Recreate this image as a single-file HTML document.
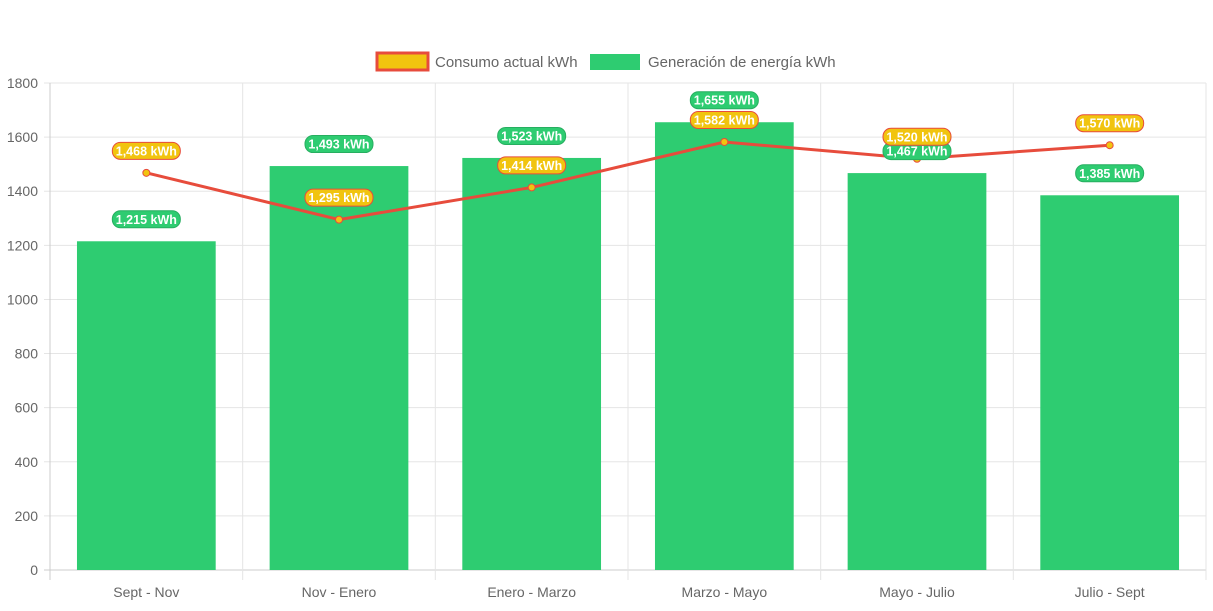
<!DOCTYPE html>
<html><head><meta charset="utf-8"><style>
body{margin:0;background:#fff;width:1213px;height:606px;overflow:hidden;font-family:"Liberation Sans",sans-serif}
</style></head><body>
<svg id="c" width="1213" height="606" font-family="Liberation Sans, sans-serif">
<g>
<rect x="377" y="53" width="51" height="17" fill="#f1c40f" stroke="#e74c3c" stroke-width="3"/>
<text x="435" y="67" font-size="15" fill="#666">Consumo actual kWh</text>
<rect x="590" y="54" width="50" height="16" fill="#2ecc71"/>
<text x="648" y="67" font-size="15" fill="#666">Generación de energía kWh</text>
</g>
<g id="grid"></g><g id="bars"></g><g id="line"></g><g id="blabels"></g><g id="llabels"></g>
</svg>
<script>
const categories=["Sept - Nov","Nov - Enero","Enero - Marzo","Marzo - Mayo","Mayo - Julio","Julio - Sept"];
const generacion=[1215,1493,1523,1655,1467,1385];
const consumo=[1468,1295,1414,1582,1520,1570];
const yTicks=[0,200,400,600,800,1000,1200,1400,1600,1800];
const NS="http://www.w3.org/2000/svg";
const L=50,R=1206,T=83,B=570,yMax=1800;
const y=v=>B-(v/yMax)*(B-T);
const cw=(R-L)/categories.length;
const xc=i=>L+cw*(i+0.5);
function mk(tag,attrs,parent){const e=document.createElementNS(NS,tag);for(const k in attrs)e.setAttribute(k,attrs[k]);parent.appendChild(e);return e;}
const grid=document.getElementById('grid');
yTicks.forEach(t=>{
  const ln=mk('line',{x1:L-6,x2:R,y1:y(t),y2:y(t),stroke:t===0?'#ccc':'#e5e5e5'},grid);
  
  
  const tx=mk('text',{x:L-12,y:y(t)+5,'text-anchor':'end','font-size':14,fill:'#666'},grid);
  tx.textContent=t;
  
  
});
for(let i=0;i<=categories.length;i++){
  const x=L+cw*i;
  const ln=mk('line',{x1:x,x2:x,y1:T,y2:B+10,stroke:i===0?'#ccc':'#e5e5e5'},grid);
  
  
}
categories.forEach((c,i)=>{
  const tx=mk('text',{x:xc(i),y:597,'text-anchor':'middle','font-size':14,fill:'#666'},grid);
  tx.textContent=c;
  
  
});
const bw=cw*0.72;
const bars=document.getElementById('bars');
generacion.forEach((v,i)=>{
  const r=mk('rect',{x:xc(i)-bw/2,y:y(v),width:bw,height:B-y(v),fill:'#2ecc71'},bars);
  
  
});
const lineG=document.getElementById('line');
const pl=mk('polyline',{points:consumo.map((v,i)=>xc(i)+','+y(v)).join(' '),fill:'none',stroke:'#e74c3c','stroke-width':3},lineG);


consumo.forEach((v,i)=>{
  const c=mk('circle',{cx:xc(i),cy:y(v),r:3.5,fill:'#f1c40f',stroke:'#e74c3c','stroke-width':1},lineG);
  
  
});
function label(parent,x,cy,v,bg,border,name){
  const g=mk('g',{},parent);
  
  
  mk('rect',{x:x-34,y:cy-8.5,width:68,height:17,rx:8,fill:bg,stroke:border,'stroke-width':1},g);
  const t=mk('text',{x:x,y:cy+4.5,'text-anchor':'middle','font-size':12.5,'font-weight':'bold',fill:'#fff'},g);
  t.textContent=v.toLocaleString('en-US')+' kWh';
}
const bl=document.getElementById('blabels');
generacion.forEach((v,i)=>label(bl,xc(i),y(v)-22,v,'#2ecc71','#27ae60','bar-value-label'));
const ll=document.getElementById('llabels');
consumo.forEach((v,i)=>label(ll,xc(i),y(v)-22,v,'#f1c40f','#e74c3c','consumo-value-label'));
</script>
</body></html>
